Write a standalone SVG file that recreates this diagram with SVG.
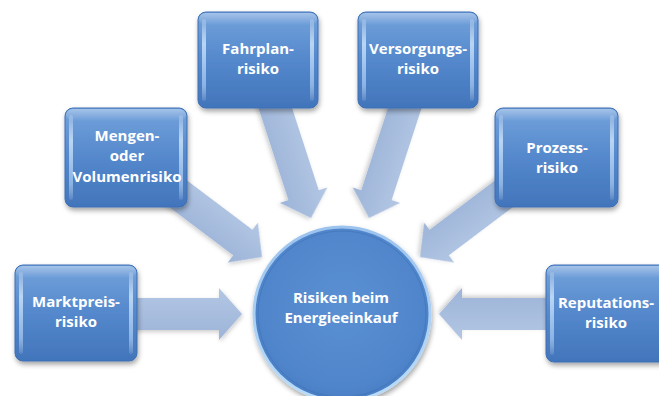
<svg xmlns="http://www.w3.org/2000/svg" width="659" height="396" viewBox="0 0 659 396">
<style>
  .lbl{font-family:"Open Sans","Noto Sans","DejaVu Sans",sans-serif;font-weight:700;font-size:15px;fill:#ffffff;text-anchor:middle}
  .box{fill:url(#boxGrad);stroke:#3d6fb3;stroke-width:1;filter:url(#shadow)}
  .rail{fill:url(#railGrad)}
  .top{fill:url(#topGrad)}
  .arrow{fill:url(#arrowGrad);filter:url(#ashadow)}
</style>
<defs>
  <linearGradient id="boxGrad" x1="0" y1="0" x2="0" y2="1">
    <stop offset="0" stop-color="#74a3dc"/>
    <stop offset="0.5" stop-color="#5488cc"/>
    <stop offset="1" stop-color="#4275bb"/>
  </linearGradient>
  <linearGradient id="railGrad" x1="0" y1="0" x2="0" y2="1">
    <stop offset="0" stop-color="#ffffff" stop-opacity="0.15"/>
    <stop offset="0.3" stop-color="#d8ecff" stop-opacity="0.75"/>
    <stop offset="0.8" stop-color="#c4e0ff" stop-opacity="0.55"/>
    <stop offset="1" stop-color="#ffffff" stop-opacity="0.1"/>
  </linearGradient>
  <linearGradient id="topGrad" x1="0" y1="0" x2="0" y2="1">
    <stop offset="0" stop-color="#ffffff" stop-opacity="0.35"/>
    <stop offset="1" stop-color="#ffffff" stop-opacity="0"/>
  </linearGradient>
  <linearGradient id="arrowGrad" x1="0" y1="0" x2="0" y2="1">
    <stop offset="0" stop-color="#b3c7e4"/>
    <stop offset="1" stop-color="#9db4d8"/>
  </linearGradient>
  <radialGradient id="circGrad" cx="0.5" cy="0.45" r="0.55">
    <stop offset="0" stop-color="#5b90d3"/>
    <stop offset="0.85" stop-color="#5085cb"/>
    <stop offset="1" stop-color="#4a7ec4"/>
  </radialGradient>
  <linearGradient id="rimGrad" x1="0" y1="0" x2="0" y2="1">
    <stop offset="0" stop-color="#9cc3ee"/>
    <stop offset="1" stop-color="#b9dcfa"/>
  </linearGradient>
  <filter id="shadow" x="-20%" y="-20%" width="140%" height="140%">
    <feDropShadow dx="1" dy="3" stdDeviation="2.5" flood-color="#000000" flood-opacity="0.35"/>
  </filter>
  <filter id="ashadow" x="-20%" y="-20%" width="140%" height="140%">
    <feDropShadow dx="1" dy="2" stdDeviation="2" flood-color="#000000" flood-opacity="0.2"/>
  </filter>
</defs>
<rect width="659" height="396" fill="#ffffff"/>

<g id="connectors">
  <polygon class="arrow" transform="translate(242,314)" points="-122,-16 -23,-16 -23,-26 0,0 -23,26 -23,16 -122,16"/>
  <polygon class="arrow" transform="translate(439,314) rotate(180)" points="-122,-16 -23,-16 -23,-26 0,0 -23,26 -23,16 -122,16"/>
  <polygon class="arrow" transform="translate(262,257) rotate(37)" points="-165,-16 -24,-16 -24,-25 0,0 -24,25 -24,16 -165,16"/>
  <polygon class="arrow" transform="translate(420,257) rotate(143)" points="-165,-16 -24,-16 -24,-25 0,0 -24,25 -24,16 -165,16"/>
  <polygon class="arrow" transform="translate(311,218) rotate(72)" points="-165,-16 -24,-16 -24,-25 0,0 -24,25 -24,16 -165,16"/>
  <polygon class="arrow" transform="translate(369,218) rotate(108)" points="-165,-16 -24,-16 -24,-25 0,0 -24,25 -24,16 -165,16"/>
</g>

<g id="center">
  <ellipse cx="342" cy="314" rx="88" ry="87" fill="url(#circGrad)" stroke="url(#rimGrad)" stroke-width="3" filter="url(#shadow)"/>
  <ellipse cx="342" cy="314" rx="84" ry="83" fill="none" stroke="#3f71b6" stroke-width="1" opacity="0.6"/>
  <text class="lbl" x="341" y="303">Risiken beim</text>
  <text class="lbl" x="341" y="323">Energieeinkauf</text>
</g>

<g id="marktpreis">
  <rect class="box" x="15" y="265" width="122" height="96" rx="8"/>
  <rect class="top" x="16" y="266" width="120" height="12" rx="7"/>
  <rect class="rail" x="19" y="272" width="4" height="82" rx="2"/>
  <rect class="rail" x="129" y="272" width="4" height="82" rx="2"/>
  <text class="lbl" x="76" y="307">Marktpreis-</text>
  <text class="lbl" x="76" y="327">risiko</text>
</g>

<g id="mengen">
  <rect class="box" x="65" y="108" width="122" height="99" rx="8"/>
  <rect class="top" x="66" y="109" width="120" height="12" rx="7"/>
  <rect class="rail" x="69" y="115" width="4" height="85" rx="2"/>
  <rect class="rail" x="179" y="115" width="4" height="85" rx="2"/>
  <text class="lbl" x="127" y="141">Mengen-</text>
  <text class="lbl" x="127" y="161">oder</text>
  <text class="lbl" x="127" y="182">Volumenrisiko</text>
</g>

<g id="fahrplan">
  <rect class="box" x="198" y="12" width="120" height="96" rx="8"/>
  <rect class="top" x="199" y="13" width="118" height="12" rx="7"/>
  <rect class="rail" x="202" y="19" width="4" height="82" rx="2"/>
  <rect class="rail" x="310" y="19" width="4" height="82" rx="2"/>
  <text class="lbl" x="258" y="54">Fahrplan-</text>
  <text class="lbl" x="258" y="74">risiko</text>
</g>

<g id="versorgung">
  <rect class="box" x="358" y="12" width="120" height="96" rx="8"/>
  <rect class="top" x="359" y="13" width="118" height="12" rx="7"/>
  <rect class="rail" x="362" y="19" width="4" height="82" rx="2"/>
  <rect class="rail" x="470" y="19" width="4" height="82" rx="2"/>
  <text class="lbl" x="418" y="54">Versorgungs-</text>
  <text class="lbl" x="418" y="74">risiko</text>
</g>

<g id="prozess">
  <rect class="box" x="495" y="108" width="123" height="99" rx="8"/>
  <rect class="top" x="496" y="109" width="121" height="12" rx="7"/>
  <rect class="rail" x="499" y="115" width="4" height="85" rx="2"/>
  <rect class="rail" x="610" y="115" width="4" height="85" rx="2"/>
  <text class="lbl" x="557" y="153">Prozess-</text>
  <text class="lbl" x="557" y="173">risiko</text>
</g>

<g id="reputation">
  <rect class="box" x="546" y="265" width="122" height="97" rx="8"/>
  <rect class="top" x="547" y="266" width="120" height="12" rx="7"/>
  <rect class="rail" x="550" y="272" width="4" height="83" rx="2"/>
  <text class="lbl" x="606" y="308">Reputations-</text>
  <text class="lbl" x="606" y="328">risiko</text>
</g>
</svg>
